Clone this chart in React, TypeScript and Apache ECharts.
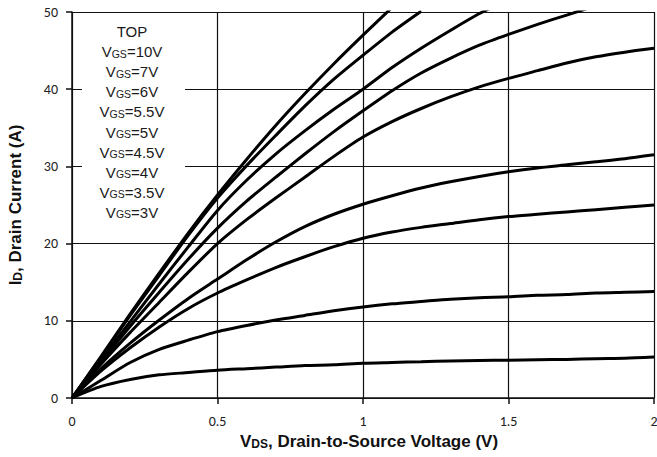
import React, { useEffect, useRef } from "react";
import * as echarts from "echarts";

const vds = [0, 0.1, 0.2, 0.3, 0.4, 0.5, 0.6, 0.7, 0.8, 0.9, 1.0, 1.1, 1.2, 1.3, 1.4, 1.5, 1.6, 1.7, 1.8, 1.9, 2.0];
const vgsLabels = ["10V", "7V", "6V", "5.5V", "5V", "4.5V", "4V", "3.5V", "3V"];
const id10 = [0, 5.4, 10.9, 16.2, 21.4, 26.3, 30.9, 35.3, 39.4, 43.3, 47.0, 50.6];
const id7 = [0, 5.3, 10.7, 15.9, 21.1, 25.9, 30.1, 34.0, 37.8, 41.3, 44.4, 47.4, 50.1];
const id6 = [0, 5.0, 9.9, 14.8, 19.6, 24.3, 28.2, 31.6, 34.6, 37.4, 40.0, 42.8, 45.3, 47.6, 49.8, 51.6];
const id55 = [0, 4.7, 9.3, 13.7, 18.0, 22.0, 25.5, 28.6, 31.6, 34.5, 37.2, 39.8, 42.1, 44.0, 45.7, 47.1, 48.4, 49.6, 50.8];
const id5 = [0, 4.4, 8.5, 12.4, 16.3, 20.0, 23.1, 25.9, 28.6, 31.3, 33.8, 35.8, 37.5, 39.0, 40.3, 41.4, 42.4, 43.4, 44.2, 44.8, 45.3];
const id45 = [0, 3.8, 7.1, 10.1, 12.9, 15.4, 17.9, 20.2, 22.2, 23.8, 25.1, 26.2, 27.2, 28.0, 28.7, 29.3, 29.8, 30.2, 30.6, 31.0, 31.5];
const id4 = [0, 3.5, 6.5, 9.2, 11.6, 13.6, 15.3, 16.9, 18.3, 19.6, 20.7, 21.5, 22.1, 22.6, 23.1, 23.5, 23.8, 24.1, 24.4, 24.7, 25.0];
const id35 = [0, 2.3, 4.6, 6.3, 7.5, 8.6, 9.4, 10.1, 10.7, 11.3, 11.8, 12.2, 12.5, 12.8, 13.0, 13.1, 13.3, 13.4, 13.6, 13.7, 13.8];
const id3 = [0, 1.5, 2.4, 3.0, 3.3, 3.6, 3.8, 4.0, 4.2, 4.3, 4.5, 4.6, 4.7, 4.8, 4.85, 4.9, 4.95, 5.0, 5.1, 5.15, 5.3];
const curves = [id10, id7, id6, id55, id5, id45, id4, id35, id3];
const xTicks = ["0", "0.5", "1", "1.5", "2"];

const tickFont = "Carlito, Lato, sans-serif";
const titleFont = "'Liberation Sans Narrow', 'Arial Narrow', 'Liberation Sans', Arial, sans-serif";
const legendFont = "'Liberation Sans', Arial, sans-serif";

export default function App() {
  const ref = useRef<HTMLDivElement>(null);
  useEffect(() => {
    document.body.style.margin = "0";
    const chart = echarts.init(ref.current!, null, { renderer: "svg" });
    const legendLines = ["TOP", ...vgsLabels.map((v) => "VGS=" + v)];
    const legendTexts: any[] = legendLines.map((t, i) => ({
      type: "text",
      x: 132,
      y: 30 + i * 20.1,
      z: 20,
      style: {
        text: i === 0 ? "{v|TOP}" : "{v|V}{s|GS}{v|" + t.slice(3) + "}",
        align: "center",
        verticalAlign: "middle",
        fill: "#1a1a1a",
        font: "15px " + legendFont,
        rich: {
          v: { fontSize: 15, fontFamily: legendFont, lineHeight: 18, verticalAlign: "bottom", fill: "#1a1a1a" },
          s: { fontSize: 10.5, fontFamily: legendFont, lineHeight: 11, verticalAlign: "bottom", fill: "#1a1a1a" },
        },
      },
    }));
    chart.setOption({
      animation: false,
      backgroundColor: "#fff",
      grid: { left: 72, right: 3, top: 12, bottom: 59, containLabel: false, outerBoundsMode: "none" },
      xAxis: {
        type: "value",
        min: 0,
        max: 2,
        interval: 0.5,
        name: "{a|V}{b|DS}{a|, Drain-to-Source Voltage (V)}",
        nameLocation: "middle",
        nameGap: 30,
        nameTextStyle: {
          padding: [0, 0, 0, 12],
          rich: {
            a: { fontSize: 17, fontWeight: "bold", fontFamily: titleFont, color: "#111", verticalAlign: "bottom", lineHeight: 20 },
            b: { fontSize: 12, fontWeight: "bold", fontFamily: titleFont, color: "#111", verticalAlign: "bottom", lineHeight: 16 },
          },
        },
        axisLine: { lineStyle: { color: "#111", width: 1.5 } },
        axisTick: { show: true, length: 6, inside: false, lineStyle: { color: "#111", width: 1.5 } },
        axisLabel: {
          margin: 16,
          fontSize: 14,
          fontFamily: tickFont,
          color: "#222",
          formatter: (v: number) => xTicks[Math.round(v / 0.5)] ?? String(v),
        },
        splitLine: { show: true, lineStyle: { color: "#111", width: 1.2 } },
      },
      yAxis: {
        type: "value",
        min: 0,
        max: 50,
        interval: 10,
        name: "{a|I}{b|D}{a|, Drain Current (A)}",
        nameLocation: "middle",
        nameGap: 48,
        nameRotate: 90,
        nameTextStyle: {
          rich: {
            a: { fontSize: 17, fontWeight: "bold", fontFamily: titleFont, color: "#111", verticalAlign: "bottom", lineHeight: 20 },
            b: { fontSize: 12, fontWeight: "bold", fontFamily: titleFont, color: "#111", verticalAlign: "bottom", lineHeight: 14 },
          },
        },
        axisLine: { show: true, lineStyle: { color: "#111", width: 1.5 } },
        axisTick: { show: true, length: 6, inside: false, lineStyle: { color: "#111", width: 1.5 } },
        axisLabel: { margin: 14, fontSize: 14, fontFamily: tickFont, color: "#222" },
        splitLine: { show: true, lineStyle: { color: "#111", width: 1.2 } },
      },
      graphic: [
        { type: "rect", z: 10, shape: { x: 82, y: 18, width: 103, height: 204 }, style: { fill: "#fff" } },
        ...legendTexts,
      ],
      series: curves.map((c, i) => ({
        type: "line",
        name: "VGS=" + vgsLabels[i],
        data: c.map((y, j) => [vds[j], y]),
        showSymbol: false,
        smooth: 0.25,
        clip: true,
        z: 5,
        lineStyle: { color: "#000", width: 3 },
      })),
    });
    return () => chart.dispose();
  }, []);
  return <div ref={ref} style={{ width: 657, height: 457 }} />;
}
